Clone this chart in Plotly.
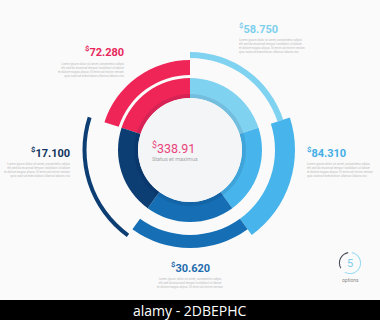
import plotly.graph_objects as go

# Five segments of the radial infographic
names = ["red", "light", "sky", "medium", "navy"]
amounts = ["72.280", "58.750", "84.310", "30.620", "17.100"]
sector_start = [288, 0, 72, 144, 216]   # degrees, clockwise from 12 o'clock
sector_span = [72, 72, 72, 72, 72]
total_label = "338.91"
options_count = "5"

# Styling
colors = ["#EF2457", "#80D2F1", "#47B5EB", "#166FB4", "#0C3D73"]
label_colors = ["#E8285C", "#7DCFEE", "#44AEE6", "#1D6CAD", "#11355F"]
outer_base = [75, 92, 85, 85, 103.5]
outer_thick = [15, 6, 20, 13, 4]
inner_base, inner_thick = 52, 20

W, H = 380, 320
BG = "#FAFAFA"


def px(x):
    return x / W


def py(y):
    return 1 - y / H


fig = go.Figure()

centers = [s + w / 2 for s, w in zip(sector_start, sector_span)]

# inner ring
fig.add_trace(go.Barpolar(
    r=[inner_thick] * 5, base=[inner_base] * 5, theta=centers, width=sector_span,
    marker=dict(color=colors, line=dict(width=0)), hoverinfo="skip", showlegend=False))
# soft shadow of the centre disc on the ring
fig.add_trace(go.Barpolar(
    r=[4], base=[inner_base], theta=[0], width=[360],
    marker=dict(color="rgba(0,20,60,0.10)", line=dict(width=0)), hoverinfo="skip", showlegend=False))
# outer arcs
fig.add_trace(go.Barpolar(
    r=outer_thick, base=outer_base, theta=centers, width=sector_span,
    marker=dict(color=colors, line=dict(width=0)), hoverinfo="skip", showlegend=False))
# centre disc
fig.add_trace(go.Barpolar(
    r=[inner_base], base=[0], theta=[0], width=[360],
    marker=dict(color="#F4F5F7", line=dict(width=0)), hoverinfo="skip", showlegend=False))

# small "options" ring icon
fig.add_trace(go.Barpolar(
    r=[1.1, 1.1], base=[10, 10], theta=[110, 295], width=[200, 110],
    marker=dict(color=["#9BDBF3", "#4A4F5A"], line=dict(width=0)),
    hoverinfo="skip", showlegend=False, subplot="polar2"))

axis_off = dict(visible=False)
fig.update_layout(
    width=W, height=H, margin=dict(l=0, r=0, t=0, b=0),
    paper_bgcolor=BG, plot_bgcolor=BG,
    polar=dict(
        domain=dict(x=[px(80), px(300)], y=[py(260), py(40)]),
        bgcolor="rgba(0,0,0,0)",
        radialaxis=dict(range=[0, 110], **axis_off),
        angularaxis=dict(rotation=90, direction="clockwise", **axis_off),
    ),
    polar2=dict(
        domain=dict(x=[px(338), px(362)], y=[py(275), py(251)]),
        bgcolor="rgba(0,0,0,0)",
        radialaxis=dict(range=[0, 12], **axis_off),
        angularaxis=dict(rotation=90, direction="clockwise", **axis_off),
    ),
)

lorem = ["Lorem ipsum dolor sit amet, consectetur adipis",
         "elit sed do eiusmod tempor incididunt ut labore",
         "et dolore magna aliqua. Ut enim ad minim veniam",
         "quis nostrud exercitation ullamco laboris nisi"]

# label placement: (x, y of value, anchor, number of text lines)
label_pos = {
    "red": (126, 52, "right", 4),
    "light": (237, 28, "left", 4),
    "sky": (305, 152, "left", 4),
    "medium": (190, 267, "center", 3),
    "navy": (72, 152, "right", 4),
}

for name, amt, col in zip(names, amounts, label_colors):
    x, y, anchor, nl = label_pos[name]
    fig.add_annotation(
        x=px(x), y=py(y), xref="paper", yref="paper", xanchor=anchor, yanchor="middle",
        text=f"<sup>$</sup>{amt}", showarrow=False,
        font=dict(family="Roboto", size=11, color=col, weight="bold"))
    fig.add_annotation(
        x=px(x), y=py(y + 8), xref="paper", yref="paper", xanchor=anchor, yanchor="top",
        text="<br>".join(lorem[:nl]), showarrow=False, align=anchor,
        font=dict(family="Roboto", size=3, color="#BDBDBD"))

# centre total
fig.add_annotation(
    x=px(150), y=py(148), xref="paper", yref="paper", xanchor="left", yanchor="middle",
    text=f"<sup>$</sup>{total_label}", showarrow=False,
    font=dict(family="Roboto", size=12.5, color="#E8447A"))
fig.add_annotation(
    x=px(150), y=py(159), xref="paper", yref="paper", xanchor="left", yanchor="middle",
    text="Status et maximus", showarrow=False,
    font=dict(family="Roboto", size=5.5, color="#A8A8A8"))

# options icon text
fig.add_annotation(
    x=px(350), y=py(263), xref="paper", yref="paper", xanchor="center", yanchor="middle",
    text=options_count, showarrow=False,
    font=dict(family="Roboto", size=11, color="#7FCBEA"))
fig.add_annotation(
    x=px(350), y=py(280), xref="paper", yref="paper", xanchor="center", yanchor="middle",
    text="options", showarrow=False,
    font=dict(family="Roboto", size=5, color="#8A8A8A"))

# footer band
fig.add_shape(type="rect", xref="paper", yref="paper", x0=0, x1=1, y0=0, y1=py(300),
              fillcolor="#000000", line=dict(width=0), layer="above")
fig.add_annotation(
    x=0.5, y=py(310), xref="paper", yref="paper", xanchor="center", yanchor="middle",
    text="alamy - 2DBEPHC", showarrow=False,
    font=dict(family="Open Sans", size=14, color="#FFFFFF"))

fig.write_html("out.html")
